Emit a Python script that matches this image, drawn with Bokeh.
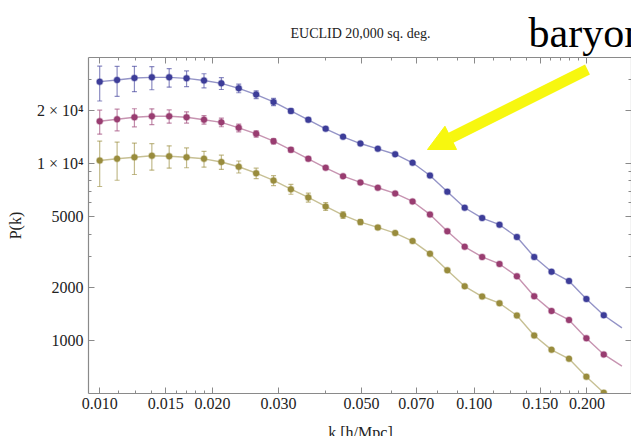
import math

from bokeh.plotting import figure
from bokeh.layouts import column
from bokeh.models import (ColumnDataSource, Whisker, TeeHead, FixedTicker, LogAxis,
                          CustomJSTickFormatter, Label, Arrow, NormalHead, Range1d)
from bokeh.embed import file_html
from bokeh.resources import INLINE

# ---- band powers: wavenumber bins [h/Mpc] and P(k) for three tracers ----
k = [0.01000, 0.01113, 0.01238, 0.01378, 0.01533, 0.01706, 0.01899, 0.02113,
     0.02351, 0.02617, 0.02912, 0.03240, 0.03606, 0.04012, 0.04465, 0.04968,
     0.05529, 0.06152, 0.06846, 0.07618, 0.08477, 0.09433, 0.1050, 0.1168,
     0.1300, 0.1446, 0.1609, 0.1791, 0.1993, 0.2218]

pk_high = [29170, 29830, 30610, 30850, 30850, 30450, 29630, 28540, 26740, 24640,
           22400, 19930, 17730, 15770, 14210, 13020, 12150, 11330, 10130, 8590,
           6950, 5640, 4930, 4520, 3850, 2970, 2450, 2170, 1718, 1390]
err_high = [6500, 5750, 5000, 4600, 3700, 3100, 2700, 2200, 1500, 1230,
            1050, 600, 400, 300, 200, 0, 0, 0, 0, 0,
            0, 0, 0, 0, 0, 0, 0, 0, 0, 0]

pk_mid = [17410, 17870, 18340, 18580, 18580, 18340, 17750, 17160, 15970, 14770,
          13420, 12000, 10670, 9490, 8510, 7840, 7320, 6800, 6120, 5170,
          4155, 3390, 2970, 2710, 2310, 1780, 1470, 1307, 1030, 834]
err_mid = [2700, 2500, 2150, 1900, 1600, 1350, 1000, 950, 800, 600,
           450, 350, 250, 150, 100, 0, 0, 0, 0, 0,
           0, 0, 0, 0, 0, 0, 0, 0, 0, 0]

pk_low = [10440, 10670, 10900, 11100, 11040, 10900, 10670, 10240, 9620, 8850,
          8050, 7185, 6450, 5740, 5125, 4680, 4365, 4055, 3652, 3100,
          2495, 2026, 1773, 1625, 1384, 1067, 885, 787, 623, 506]
err_low = [3000, 2600, 2200, 1900, 1600, 1400, 1100, 950, 750, 600,
           520, 460, 380, 300, 220, 150, 100, 0, 0, 0,
           0, 0, 0, 0, 0, 0, 0, 0, 0, 0]

# the interpolating curves run a little past the last bin
k_tail = 0.248
tail_high, tail_mid, tail_low = 1178, 716, 430

x_major = [0.010, 0.015, 0.020, 0.030, 0.050, 0.070, 0.100, 0.150, 0.200]
x_minor = [0.01125, 0.0125, 0.01375, 0.016, 0.017, 0.018, 0.019, 0.04, 0.06,
           0.08, 0.09, 0.1125, 0.125, 0.1375, 0.16, 0.17, 0.18, 0.19]
y_major = [1000, 2000, 5000, 10000, 20000]
y_minor = [3000, 4000, 6000, 7000, 8000, 9000, 30000]

# ---- styling ----
SERIF = "Liberation Serif"
FRAME = "#8a8a8a"
TEXT = "#222222"
C_HIGH = "#3d3d99"
C_MID = "#993d71"
C_LOW = "#998c3d"
YELLOW = "#f7f70f"

W = 631
HEADER_H = 57          # strip holding the title and the "baryon" caption
FOOTER_H = 20          # strip holding the k-axis caption
PLOT_H = 436 - HEADER_H - FOOTER_H
LEFT = 88
BOTTOM = 23            # room for the k tick labels


def strip(height, y_top):
    """A bare strip whose ranges are page pixels (frames are aligned in the column)."""
    f = figure(width=W, height=height,
               x_range=Range1d(LEFT, W), y_range=Range1d(y_top + height, y_top),
               output_backend="svg", toolbar_location=None,
               x_axis_location=None, y_axis_location=None,
               min_border_left=LEFT, min_border_right=0,
               min_border_top=0, min_border_bottom=0,
               background_fill_color="white", border_fill_color="white")
    f.outline_line_color = None
    f.grid.visible = False
    return f


def caption(fig, x, baseline, text, size, color, align="center"):
    # the label box sits about a quarter em below the requested baseline
    fig.add_layout(Label(x=x, y=baseline - 0.25 * size, text=text, text_font=SERIF,
                         text_font_size=f"{size}px", text_color=color,
                         text_align=align, text_baseline="alphabetic"))


head = strip(HEADER_H, 0)
caption(head, 360, 36, "EUCLID 20,000 sq. deg.", 14, TEXT)
caption(head, 528, 43, "baryon", 42, "black", align="left")

foot = strip(FOOTER_H, 436 - FOOTER_H)
caption(foot, 360, 436, "k [h/Mpc]", 16, TEXT)

# ---- main panel ----
p = figure(width=W, height=PLOT_H, x_axis_type="log", y_axis_type="log",
           x_range=Range1d(0.009335, 0.263), y_range=Range1d(501, 39960),
           output_backend="svg", toolbar_location=None,
           min_border_left=LEFT, min_border_right=0,
           min_border_top=0, min_border_bottom=BOTTOM,
           background_fill_color="white", border_fill_color="white")
p.outline_line_color = None
p.xgrid.visible = False
p.ygrid.visible = False


def style_axis(ax, major, minor, labelled, code=None):
    ax.ticker = FixedTicker(ticks=major, minor_ticks=minor)
    ax.axis_line_color = FRAME
    ax.axis_line_width = 1.2
    ax.major_tick_line_color = FRAME
    ax.minor_tick_line_color = FRAME
    ax.major_tick_in = 6
    ax.major_tick_out = 0
    ax.minor_tick_in = 3
    ax.minor_tick_out = 0
    if labelled:
        ax.formatter = CustomJSTickFormatter(code=code)
        ax.major_label_text_font = SERIF
        ax.major_label_text_font_size = "16px"
        ax.major_label_text_color = TEXT
        ax.major_label_standoff = 4
        ax.axis_label_text_font = SERIF
        ax.axis_label_text_font_size = "16px"
        ax.axis_label_text_font_style = "normal"
        ax.axis_label_text_color = TEXT
    else:
        ax.formatter = CustomJSTickFormatter(code="return ''")
        ax.major_label_text_font_size = "0px"
        ax.major_label_standoff = 0


x_code = "return tick.toFixed(3);"
y_code = ("if (tick >= 10000) { return (tick / 10000).toFixed(0) + ' \u00d7 10\u2074'; }"
          " return tick.toFixed(0);")

style_axis(p.xaxis[0], x_major, x_minor, True, x_code)
style_axis(p.yaxis[0], y_major, y_minor, True, y_code)
p.yaxis[0].axis_label = "P(k)"
p.yaxis[0].axis_label_standoff = 10
p.yaxis[0].major_label_standoff = 5

top_axis = LogAxis()
right_axis = LogAxis()
style_axis(top_axis, x_major, x_minor, False)
style_axis(right_axis, y_major, y_minor, False)
p.add_layout(top_axis, "above")
p.add_layout(right_axis, "right")

# ---- series: joined curve, error bars, points ----
series = [(pk_high, err_high, tail_high, C_HIGH),
          (pk_mid, err_mid, tail_mid, C_MID),
          (pk_low, err_low, tail_low, C_LOW)]

for pk, err, tail, col in series:
    p.line(k + [k_tail], pk + [tail], line_color=col, line_alpha=0.55, line_width=1.4)

    kk = [ki for ki, e in zip(k, err) if e > 0]
    up = [v + e for v, e in zip(pk, err) if e > 0]
    lo = [v - e for v, e in zip(pk, err) if e > 0]
    src = ColumnDataSource(dict(k=kk, upper=up, lower=lo))
    p.add_layout(Whisker(source=src, base="k", upper="upper", lower="lower",
                         dimension="height", line_color=col, line_alpha=0.6,
                         line_width=1.2,
                         upper_head=TeeHead(size=5, line_color=col, line_alpha=0.6, line_width=1.2),
                         lower_head=TeeHead(size=5, line_color=col, line_alpha=0.6, line_width=1.2)))

    p.scatter(k, pk, size=6, fill_color=col, line_color=col, line_alpha=0.35,
              line_width=1.5)

# ---- highlight arrow (frame-relative screen units, y up from the frame bottom) ----
FRAME_BOTTOM = HEADER_H + PLOT_H - BOTTOM


def frame_xy(cx, cy):
    """Page pixel position -> frame-relative screen units."""
    return cx - LEFT, FRAME_BOTTOM - cy


ax0, ay0 = frame_xy(587, 69)
ax1, ay1 = frame_xy(427, 149)
p.add_layout(Arrow(x_start=ax0, y_start=ay0, x_end=ax1, y_end=ay1,
                   start_units="screen", end_units="screen",
                   line_color=YELLOW, line_width=11,
                   end=NormalHead(size=26, fill_color=YELLOW,
                                  line_color=YELLOW, line_width=1)))

page = column(head, p, foot, spacing=0)
open("out.html", "w").write(file_html(page, INLINE))
